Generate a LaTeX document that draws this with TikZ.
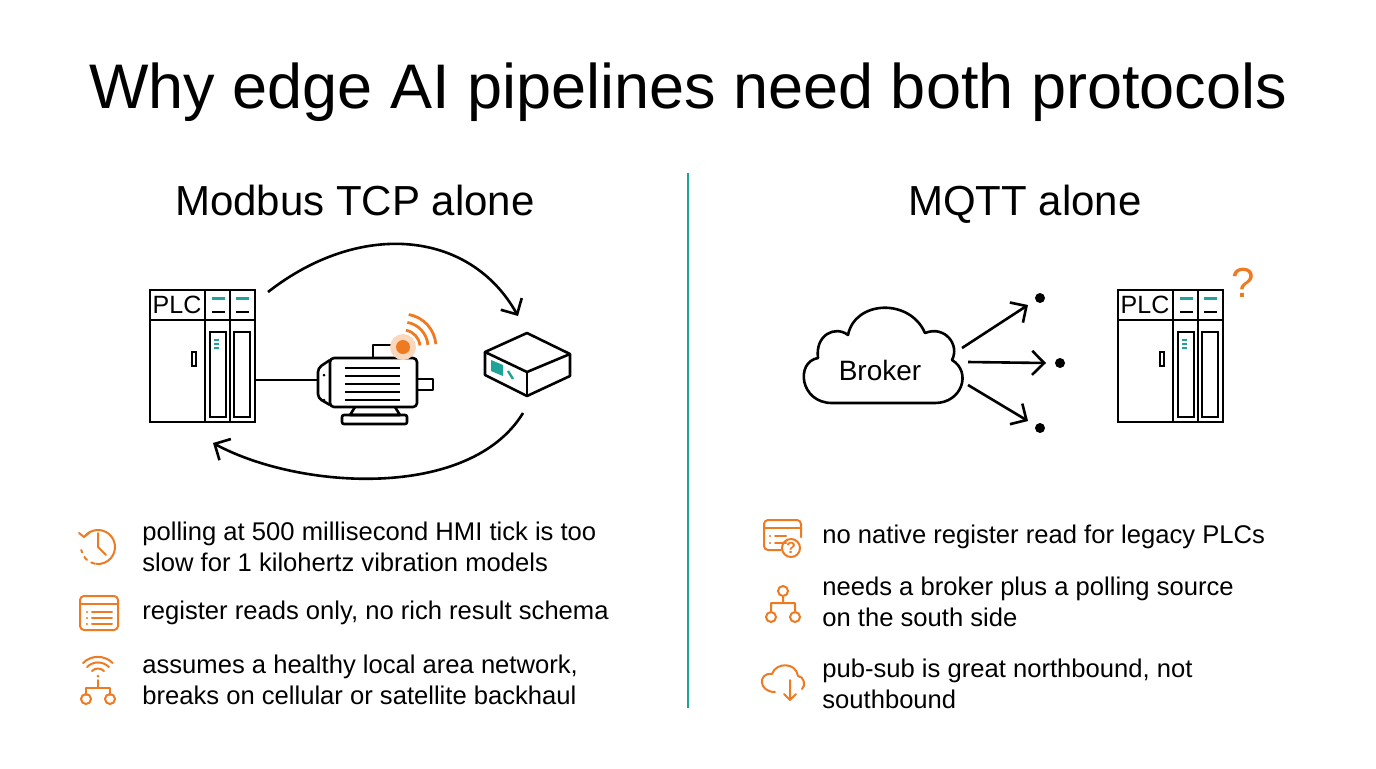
\documentclass[tikz,border=0pt]{standalone}
\usepackage{fontspec}
\setmainfont{Liberation Sans}
\usetikzlibrary{arrows.meta}
\definecolor{teal1}{HTML}{1FA398}
\definecolor{orng}{HTML}{EE7A22}

\tikzset{
  plc/.pic={
    \draw[line width=1.3pt] (0,0) rectangle (105,132);
    \draw[line width=1.3pt] (0,30) -- (105,30) (55,0) -- (55,132) (80,0) -- (80,132);
    \node[font=\fontsize{12.5}{14}\selectfont] at (27,15) {PLC};
    \foreach \x in {62,86} {
      \draw[teal1,line width=1.5pt] (\x,8) -- +(13,0);
      \draw[line width=1.2pt] (\x,22) -- +(13,0);
      \draw[line width=1.2pt] (\x-2,42) rectangle +(16,85);
    }
    \foreach \y in {50,54,58} \draw[teal1,line width=1pt] (64,\y) -- +(5,0);
    \draw[line width=1.1pt] (42,62) rectangle (46,76);
  },
  flow/.style={line width=1.3pt,-{Straight Barb[length=6pt,width=12pt]}},
  body/.style={font=\fontsize{12.8}{15.5}\selectfont,anchor=west,align=left,inner sep=0pt},
  ico/.style={orng,line width=1pt,line cap=round,line join=round}
}

\begin{document}
\begin{tikzpicture}[x=0.5pt,y=-0.5pt]
\useasboundingbox (0,0) rectangle (1376,768);
% titles
\node (title) at (688,92) {\fontsize{31.5}{36}\selectfont Why edge AI pipelines need both protocols};
\node[anchor=base] (lhead) at (355,215) {\fontsize{21}{25}\selectfont Modbus TCP alone};
\node[anchor=base] (rhead) at (1025,215) {\fontsize{21}{25}\selectfont MQTT alone};
\draw[teal1,line width=1.2pt] (688,173) -- (688,708);

% left: plc, motor, gateway
\pic at (150,290) {plc};
\coordinate (plcr) at (255,380);
\coordinate (plctop) at (268,292);
\coordinate (plcbot) at (213,443);
\begin{scope}[line width=1.3pt,line join=round]
  \draw[rounded corners=2pt] (330,358) rectangle (417,407);
  \draw[rounded corners=2pt] (330,360) -- (318,368) -- (318,398) -- (330,405);
  \foreach \y in {368,376,384,392,400} \draw (345,\y) -- (400,\y);
  \draw (417,379) rectangle (433,390);
  \draw (355,407) -- (350,415) -- (400,415) -- (395,407);
  \draw[rounded corners=1pt] (342,415) rectangle (407,424);
  \draw (373,358) -- (373,345) -- (398,345);
  \fill (324,375) circle (1.5) (324,400) circle (1.5);
\end{scope}
\coordinate (motor) at (318,380);
\fill[orng!30] (403,347) circle (13);
\fill[orng] (403,347) circle (7);
\foreach \r in {17,25,33} \draw[orng,line width=1.4pt] (403,347) ++(-80:\r) arc (-80:-5:\r);
\draw[line width=1.3pt] (plcr) -- (motor);
\begin{scope}[line width=1.3pt,line join=round]
  \draw (527,333) -- (570,354) -- (527,372) -- (485,352) -- cycle;
  \draw (485,352) -- (485,375) -- (527,396) -- (570,376) -- (570,354);
  \draw (527,372) -- (527,396);
\end{scope}
\fill[teal1] (491,360) -- (503,365) -- (503,376) -- (491,371) -- cycle;
\draw[teal1,line width=1.2pt] (508,371) -- (513,379);
\coordinate (gwtop) at (518,316);
\coordinate (gwbot) at (523,413);
\draw[flow] (plctop) .. controls (360,220) and (470,230) .. (gwtop);
\draw[flow] (gwbot) .. controls (470,500) and (300,490) .. (plcbot);

% right: broker and plc
\draw[line width=1.3pt,line join=round] (832,403) .. controls (800,403) and (795,362) .. (818,358)
  .. controls (815,335) and (835,325) .. (848,335)
  .. controls (855,300) and (910,298) .. (925,333)
  .. controls (945,325) and (960,345) .. (952,360)
  .. controls (972,372) and (962,403) .. (935,403) -- cycle;
\node[font=\fontsize{14}{16}\selectfont] (broker) at (880,370) {Broker};
\coordinate (b1) at (962,348);
\coordinate (b2) at (968,362);
\coordinate (b3) at (968,385);
\node[circle,fill,inner sep=0pt,minimum size=5pt] (d1) at (1040,298) {};
\node[circle,fill,inner sep=0pt,minimum size=5pt] (d2) at (1060,363) {};
\node[circle,fill,inner sep=0pt,minimum size=5pt] (d3) at (1040,428) {};
\draw[flow] (b1) -- (1028,305);
\draw[flow] (b2) -- (1046,363);
\draw[flow] (b3) -- (1028,421);
\pic at (1118,290) {plc};
\node[orng,font=\fontsize{21}{25}\selectfont] (qm) at (1243,283) {?};

% left bullets
\node[body] (l1) at (142,547) {polling at 500 millisecond HMI tick is too\\slow for 1 kilohertz vibration models};
\node[body] (l2) at (142,613) {register reads only, no rich result schema};
\node[body] (l3) at (142,680) {assumes a healthy local area network,\\breaks on cellular or satellite backhaul};
% right bullets
\node[body] (r1) at (822,537) {no native register read for legacy PLCs};
\node[body] (r2) at (822,602) {needs a broker plus a polling source\\on the south side};
\node[body] (r3) at (822,684) {pub-sub is great northbound, not\\southbound};

% icons
\begin{scope}[ico]
  \draw (98,547) ++(-140:17) arc (-140:95:17);
  \draw[dash pattern=on 2pt off 2.5pt] (98,547) ++(100:17) arc (100:170:17);
  \draw (79,533) -- (84,537) -- (90,532);
  \draw (98,533) -- (98,547) -- (106,555);
  \draw[rounded corners=2pt] (80,596) rectangle (118,630);
  \draw (80,604) -- (118,604);
  \foreach \y in {612,618,624} {\fill (87,\y) circle (1.1); \draw (92,\y) -- (112,\y);}
  \draw (98,680) -- (98,688) (86,695) -- (86,688) -- (110,688) -- (110,695);
  \draw (86,699) circle (5) (110,699) circle (5);
  \fill (98,676) circle (1.5);
  \draw (92,671) arc (-135:-45:8.5) (87,667) arc (-135:-45:15.5) (83,663) arc (-135:-45:21);
  % right icons
  \draw[rounded corners=2pt] (781,550) -- (764,550) -- (764,520) -- (801,520) -- (801,537);
  \draw (764,528) -- (801,528);
  \foreach \y in {536,543} {\fill (770,\y) circle (1.1); \draw (775,\y) -- (786,\y);}
  \draw (791,548) circle (9);
  \node[orng,font=\fontsize{8}{9}\selectfont\bfseries] at (791,548) {?};
  \draw (783,591) circle (5) (783,596) -- (783,603) (771,612) -- (771,603) -- (795,603) -- (795,612);
  \draw (771,617) circle (5) (795,617) circle (5);
  \draw (775,692) .. controls (758,692) and (758,672) .. (772,674) .. controls (776,662) and (796,662) .. (798,676)
    .. controls (804,676) and (806,686) .. (802,689);
  \draw (790,680) -- (790,700) (784,694) -- (790,700) -- (796,694);
\end{scope}
\end{tikzpicture}
\end{document}
